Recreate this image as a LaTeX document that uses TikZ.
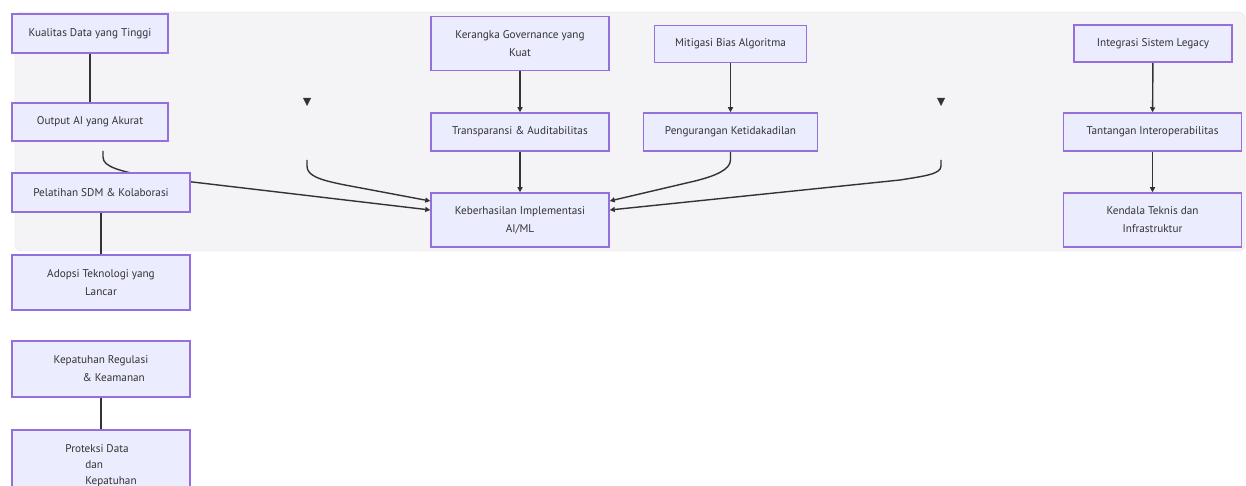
\documentclass[tikz,border=0pt]{standalone}
\usepackage{fontspec}
\setmainfont{PT Sans}
\usetikzlibrary{arrows.meta}
\pgfdeclarelayer{back}
\pgfdeclarelayer{lines}
\pgfsetlayers{back,lines,main}
\definecolor{boxfill}{HTML}{ECECFF}
\definecolor{boxline}{HTML}{9370DB}
\definecolor{inkgray}{HTML}{333333}
\definecolor{panelfill}{HTML}{F4F4F6}
\definecolor{panelline}{HTML}{E0E0E4}

\begin{document}
\begin{tikzpicture}[x=1pt,y=-1pt,font=\fontsize{11.2}{18}\selectfont,
    >={Triangle[length=5pt,width=5pt]}]
    \tikzstyle{box}=[draw=boxline,fill=boxfill,line width=1.5pt,text=inkgray,inner sep=2pt,align=center]
    \tikzstyle{wide box}=[box,minimum width=178pt]
    \tikzstyle{link}=[draw=inkgray,line width=1.4pt]
    \tikzstyle{arrow}=[link,->]
    \tikzstyle{marker}=[fill=inkgray]

    \useasboundingbox (0,0) rectangle (1246,486);

% Panel
    \begin{pgfonlayer}{back}
        \draw[draw=panelline,fill=panelfill,rounded corners=7pt] (15,12) rectangle (1245,251);
    \end{pgfonlayer}

% Nodes
    % Left column
    \node[box,minimum width=156pt,minimum height=39pt] (kualitas) at (90,33.5) {Kualitas Data yang Tinggi};
    \node[box,minimum width=156pt,minimum height=38pt] (output) at (90,122) {Output AI yang Akurat};
    \node[wide box,minimum height=39pt] (pelatihan) at (101,192.5) {Pelatihan SDM \& Kolaborasi};
    \node[wide box,minimum height=55pt] (adopsi) at (101,282.5) {Adopsi Teknologi yang\\Lancar};
    \node[wide box,minimum height=56pt,align=left] (kepatuhan) at (101,369) {Kepatuhan Regulasi\\\hspace*{29pt}\& Keamanan};
    \node[wide box,minimum height=86pt,align=left,font=\fontsize{11.2}{16}\selectfont] (proteksi) at (101,473)
        {Proteksi Data\\\hspace*{20pt}dan\\\hspace*{20pt}Kepatuhan\\\mbox{}};

    % Middle column
    \node[wide box,minimum height=54pt] (kerangka) at (520,43.5) {Kerangka Governance yang\\Kuat};
    \node[wide box,minimum height=38pt] (transparansi) at (520,132) {Transparansi \& Auditabilitas};
    \node[wide box,minimum height=54pt] (keberhasilan) at (520,220) {Keberhasilan Implementasi\\AI/ML};
    \node[box,minimum width=152pt,minimum height=37pt] (mitigasi) at (730.5,44) {Mitigasi Bias Algoritma};
    \node[box,minimum width=174pt,minimum height=38pt] (pengurangan) at (730.5,132) {Pengurangan Ketidakadilan};

    % Right column
    \node[box,minimum width=158pt,minimum height=37pt] (integrasi) at (1153,43.5) {Integrasi Sistem Legacy};
    \node[wide box,minimum height=38pt] (tantangan) at (1152.5,132) {Tantangan Interoperabilitas};
    \node[wide box,minimum height=54pt] (kendala) at (1152.5,220) {Kendala Teknis dan\\Infrastruktur};

    % Loose markers
    \foreach \x in {307,941}
        \fill[marker] (\x-4,98) -- ++(8,0) -- ++(-4,8) -- cycle;
    \coordinate (outTail) at (103,151);
    \coordinate (leftTail) at (307,160);
    \coordinate (rightTail) at (941,160);

% Paths
    \begin{pgfonlayer}{lines}
    % Plain links
    \foreach \source/\dest in {kualitas/output,pelatihan/adopsi,kepatuhan/proteksi}
        \path[link] (\source) edge (\dest);

    % Straight arrows
    \foreach \source/\dest in {kerangka/transparansi,transparansi/keberhasilan,mitigasi/pengurangan,integrasi/tantangan,tantangan/kendala}
        \path[arrow] (\source) edge (\dest);

    % Curved arrows into the goal
    \draw[arrow] (outTail) -- ++(0,6) .. controls +(0,10) and (120,171) .. (150,177) -- ([yshift=10pt]keberhasilan.west);
    \draw[arrow] (leftTail) -- ++(0,6) .. controls +(0,10) and (320,180) .. (345,185) -- ([yshift=19pt]keberhasilan.west);
    \draw[arrow] (pengurangan.south) -- ++(0,8) .. controls +(0,10) and (715,176) .. (695,181) -- ([yshift=19pt]keberhasilan.east);
    \draw[arrow] (rightTail) -- ++(0,6) .. controls +(0,8) and (925,176) .. (900,180) -- ([yshift=10pt]keberhasilan.east);
    \end{pgfonlayer}

\end{tikzpicture}
\end{document}
